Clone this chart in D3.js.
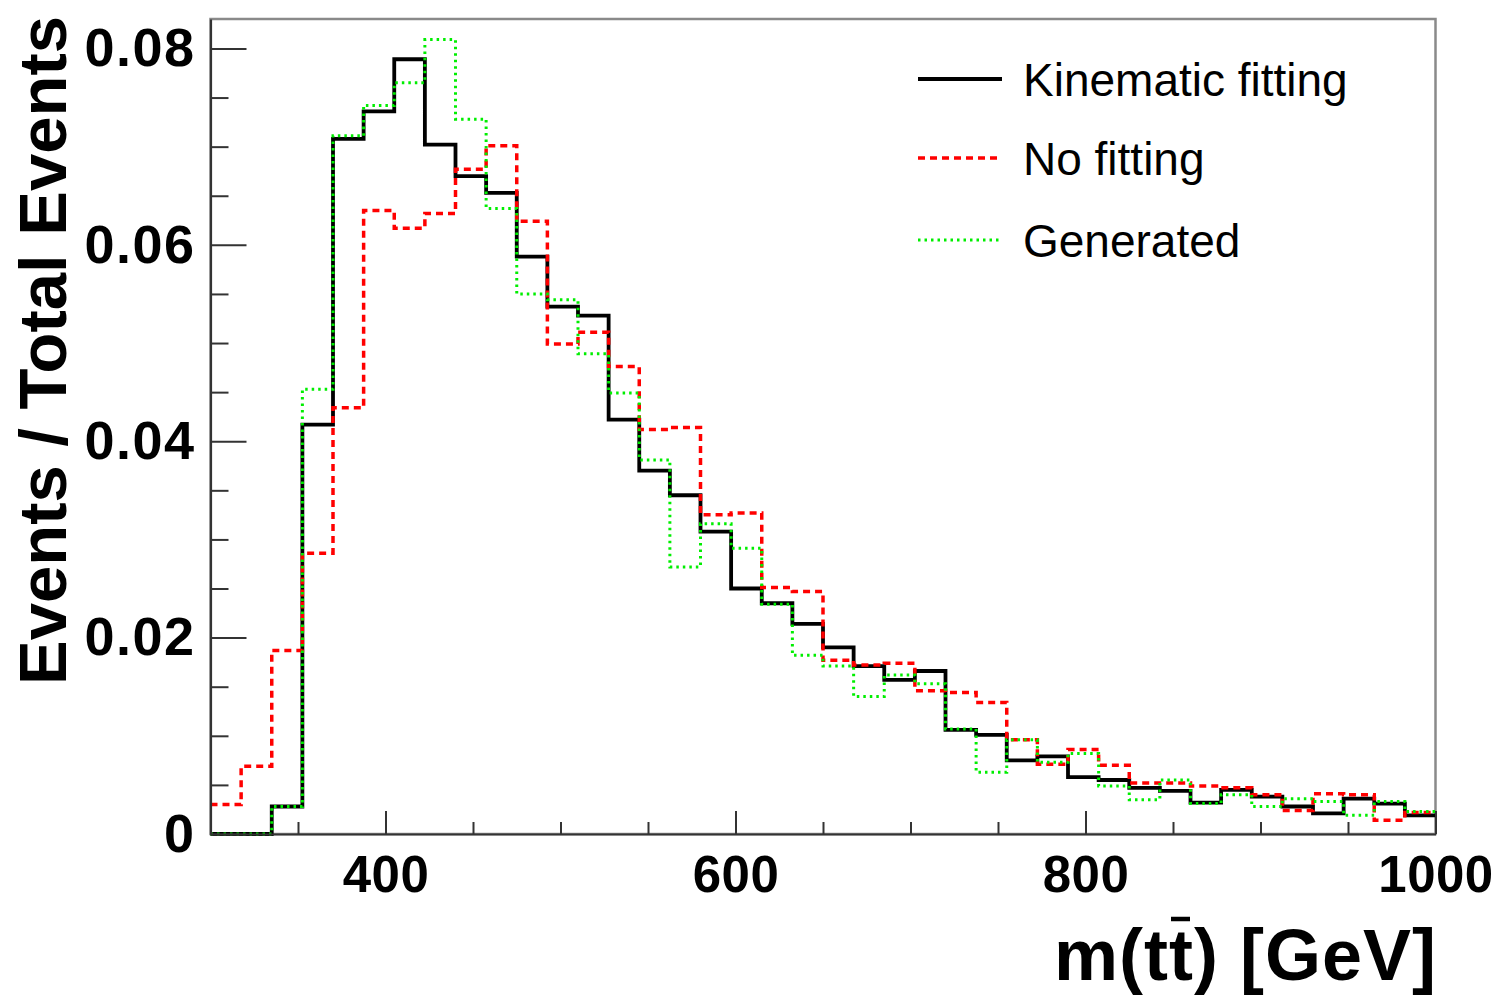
<!DOCTYPE html>
<html>
<head>
<meta charset="utf-8">
<script src="https://cdn.jsdelivr.net/npm/d3@7"></script>
<style>
    body { margin: 0; background: #fff; }
    svg text { font-family: "Liberation Sans", Arial, sans-serif; }
</style>
</head>
<body>
<svg id="chart" width="1494" height="998"></svg>
<script>
// bins: 40 bins of 17.5 GeV between 300 and 1000
const binLow = 300, binHigh = 1000, nBins = 40;

// Events / Total Events for each bin
const kinFit = [
    0, 0, 0.0028, 0.0417, 0.0708, 0.0736, 0.0789, 0.0702, 0.0670, 0.0653,
    0.0588, 0.0537, 0.0528, 0.0422, 0.0370, 0.0345, 0.0308, 0.0250, 0.0235, 0.0214,
    0.0190, 0.0171, 0.0157, 0.0166, 0.0106, 0.0101, 0.0075, 0.0079, 0.0058, 0.0055,
    0.0047, 0.0044, 0.0032, 0.0045, 0.0038, 0.0028, 0.0021, 0.0036, 0.0031, 0.0019
];
const noFit = [
    0.0030, 0.0069, 0.0187, 0.0286, 0.0434, 0.0635, 0.0617, 0.0632, 0.0677, 0.0701,
    0.0624, 0.0499, 0.0511, 0.0476, 0.0412, 0.0414, 0.0325, 0.0327, 0.0251, 0.0247,
    0.0177, 0.0172, 0.0174, 0.0146, 0.0144, 0.0134, 0.0096, 0.0071, 0.0086, 0.0070,
    0.0052, 0.0052, 0.0049, 0.0047, 0.0040, 0.0024, 0.0041, 0.0040, 0.0014, 0.0022
];
const generated = [
    0, 0, 0.0028, 0.0453, 0.0711, 0.0742, 0.0765, 0.0809, 0.0728, 0.0637,
    0.0550, 0.0544, 0.0489, 0.0449, 0.0381, 0.0272, 0.0316, 0.0291, 0.0234, 0.0182,
    0.0171, 0.0140, 0.0162, 0.0153, 0.0107, 0.0063, 0.0096, 0.0073, 0.0082, 0.0049,
    0.0035, 0.0055, 0.0031, 0.0040, 0.0028, 0.0036, 0.0033, 0.0019, 0.0033, 0.0023
];

const seriesNames = ["Kinematic fitting", "No fitting", "Generated"];
const xTickLabels = [400, 600, 800, 1000];
const yTickLabels = [0, 0.02, 0.04, 0.06, 0.08];

const series = [
    {name: seriesNames[0], values: kinFit, color: "#000000", width: 3.8, dash: null},
    {name: seriesNames[1], values: noFit, color: "#ff0000", width: 3.5, dash: "7,5"},
    {name: seriesNames[2], values: generated, color: "#00ee00", width: 3, dash: "2.5,4"}
];

const plotLeft = 210.5, plotRight = 1435.5, plotTop = 19, plotBottom = 834;

const x = d3.scaleLinear().domain([binLow, binHigh]).range([plotLeft, plotRight]);
const y = d3.scaleLinear().domain([0, 0.083]).range([plotBottom, plotTop]);

const svg = d3.select("#chart");

/* step outline of a histogram */
const binWidth = (binHigh - binLow) / nBins;
const stepPoints = vals => {
    const pts = [];
    vals.forEach((v, i) => {
        pts.push([binLow + i * binWidth, v]);
        pts.push([binLow + (i + 1) * binWidth, v]);
    });
    return pts;
};
const line = d3.line().x(d => x(d[0])).y(d => y(d[1]));

// frame
svg.append("rect")
    .attr("x", plotLeft).attr("y", plotTop)
    .attr("width", plotRight - plotLeft).attr("height", plotBottom - plotTop)
    .attr("fill", "none")
    .attr("stroke", "#8a8a8a")
    .attr("stroke-width", 2.5);

// histograms
svg.append("g")
    .selectAll("path")
    .data(series)
    .join("path")
    .attr("d", d => line(stepPoints(d.values)))
    .attr("fill", "none")
    .attr("stroke", d => d.color)
    .attr("stroke-width", d => d.width)
    .attr("stroke-dasharray", d => d.dash);

// y axis, ticks point inside
const yMinor = d3.range(0, 0.0826, 0.005).filter(v => Math.abs(v / 0.02 - Math.round(v / 0.02)) > 1e-6);
svg.append("g")
    .attr("transform", `translate(${plotLeft},0)`)
    .call(d3.axisLeft(y).tickValues(yMinor).tickSizeInner(-18).tickSizeOuter(0).tickFormat(""))
    .call(g => g.select(".domain").remove())
    .selectAll("line").attr("stroke", "#333").attr("stroke-width", 2);
const yAxis = svg.append("g")
    .attr("transform", `translate(${plotLeft},0)`)
    .call(d3.axisLeft(y).tickValues(yTickLabels).tickSizeInner(-36).tickSizeOuter(0).tickPadding(15)
        .tickFormat(d => d === 0 ? "0" : d3.format(".2f")(d)));
yAxis.select(".domain").attr("stroke", "#333").attr("stroke-width", 2.2);
yAxis.selectAll("line").attr("stroke", "#333").attr("stroke-width", 2);
yAxis.selectAll("text")
    .attr("font-size", 54).attr("font-weight", "bold").attr("fill", "#000")
    .attr("letter-spacing", 1.5)
    .attr("font-family", "Liberation Sans, Arial, sans-serif");

// x axis
const xMinor = d3.range(350, 1000, 50).filter(v => v % 200 !== 0);
svg.append("g")
    .attr("transform", `translate(0,${plotBottom})`)
    .call(d3.axisBottom(x).tickValues(xMinor).tickSizeInner(-12).tickSizeOuter(0).tickFormat(""))
    .call(g => g.select(".domain").remove())
    .selectAll("line").attr("stroke", "#333").attr("stroke-width", 2);
const xAxis = svg.append("g")
    .attr("transform", `translate(0,${plotBottom})`)
    .call(d3.axisBottom(x).tickValues(xTickLabels).tickSizeInner(-23).tickSizeOuter(0).tickPadding(22)
        .tickFormat(d3.format("d")));
xAxis.select(".domain").attr("stroke", "#333").attr("stroke-width", 2.2);
xAxis.selectAll("line").attr("stroke", "#333").attr("stroke-width", 2);
xAxis.selectAll("text")
    .attr("font-size", 51).attr("font-weight", "bold").attr("fill", "#000")
    .attr("letter-spacing", 0.5)
    .attr("font-family", "Liberation Sans, Arial, sans-serif");

// axis titles
svg.append("text")
    .attr("transform", "translate(66,16) rotate(-90)")
    .attr("text-anchor", "end")
    .attr("font-size", 67)
    .attr("font-weight", "bold")
    .text("Events / Total Events");

const xTitle = svg.append("text")
    .attr("x", 1437)
    .attr("y", 980)
    .attr("text-anchor", "end")
    .attr("font-size", 72)
    .attr("font-weight", "bold")
    .attr("letter-spacing", 1)
    .text("m(tt) [GeV]");
// bar over the second t
const tBox = xTitle.node().getExtentOfChar(3);
svg.append("line")
    .attr("x1", tBox.x + 2).attr("x2", tBox.x + tBox.width - 4)
    .attr("y1", tBox.y + 4).attr("y2", tBox.y + 4)
    .attr("stroke", "#000").attr("stroke-width", 4.5);

// legend
const legend = svg.append("g")
    .selectAll("g")
    .data(series)
    .join("g")
    .attr("transform", (d, i) => `translate(0,${[79, 158, 240][i]})`);
legend.append("line")
    .attr("x1", 918).attr("x2", 1002)
    .attr("stroke", d => d.color)
    .attr("stroke-width", d => d.width)
    .attr("stroke-dasharray", d => d.dash);
legend.append("text")
    .attr("x", 1023)
    .attr("y", 17)
    .attr("font-size", 46)
    .text(d => d.name);
</script>
</body>
</html>
